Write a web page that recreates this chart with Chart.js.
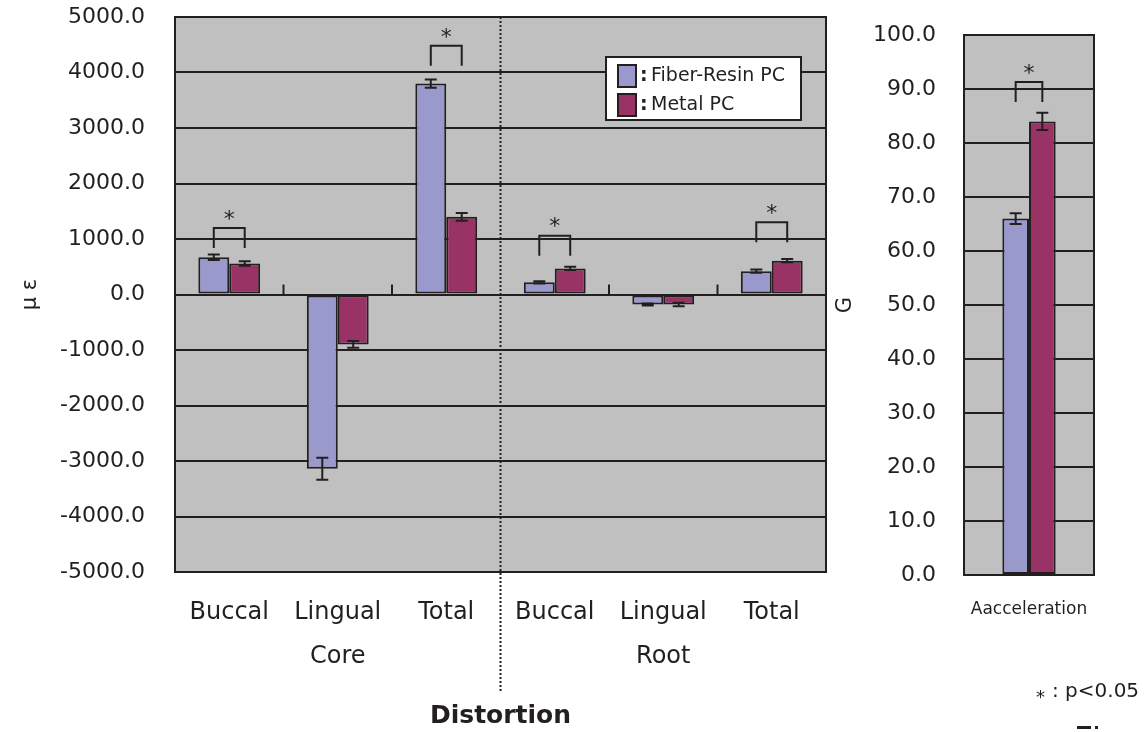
<!DOCTYPE html>
<html><head><meta charset="utf-8">
<script src="https://cdn.jsdelivr.net/npm/chart.js@4.4.1/dist/chart.umd.min.js"></script>
<style>
html,body{margin:0;padding:0;background:#fff;width:1145px;height:732px;overflow:hidden;}
#c1{position:absolute;left:0;top:0;}
#c2{position:absolute;left:830px;top:0;}
</style></head><body>
<canvas id="c1" width="830" height="732"></canvas>
<canvas id="c2" width="315" height="732"></canvas>
<script>
// ---- data ----
const categories = ['Buccal','Lingual','Total','Buccal','Lingual','Total'];
const groups = ['Core','Root'];
const seriesNames = ['Fiber-Resin PC','Metal PC'];
const fiberStrain = [670, -3140, 3800, 220, -180, 420];
const fiberStrainErr = [50, 200, 75, 20, 20, 30];
const metalStrain = [560, -900, 1400, 470, -180, 610];
const metalStrainErr = [40, 60, 70, 30, 30, 30];
const strainSigIndex = [0, 2, 3, 5];
const strainSigLevel = [1200, 4480, 1060, 1300];
const accCategories = ['Aacceleration'];
const fiberAcc = [66];
const fiberAccErr = [1];
const metalAcc = [84];
const metalAccErr = [1.6];
const accSigIndex = [0];
const accSigLevel = [91.3];

const TXT = '#231f20';
const FONT = "'DejaVu Sans', 'Liberation Sans', Arial, sans-serif";
const BLUE = '#9999cc', RED = '#993366';

function framePlugin(opts){
  return {
    id:'frame',
    beforeDraw(chart){
      const a = chart.chartArea, c = chart.ctx;
      c.save(); c.fillStyle = '#c0c0c0';
      c.fillRect(a.left, a.top, a.right-a.left, a.bottom-a.top);
      c.restore();
    },
    afterDraw(chart){
      const a = chart.chartArea, c = chart.ctx;
      const ys = chart.scales.y;
      c.save();
      c.strokeStyle = TXT; c.lineWidth = 2;
      c.strokeRect(a.left, a.top, a.right-a.left, a.bottom-a.top);
      // error bars
      const errs = opts.errs;
      chart.data.datasets.forEach((ds, di) => {
        const meta = chart.getDatasetMeta(di);
        meta.data.forEach((el, i) => {
          const v = ds.data[i], e = errs[di][i];
          const y1 = ys.getPixelForValue(v + e), y2 = ys.getPixelForValue(v - e);
          c.beginPath();
          c.moveTo(el.x, y1); c.lineTo(el.x, y2);
          c.moveTo(el.x-6, y1); c.lineTo(el.x+6, y1);
          c.moveTo(el.x-6, y2); c.lineTo(el.x+6, y2);
          c.stroke();
        });
      });
      // significance brackets
      const m0 = chart.getDatasetMeta(0), m1 = chart.getDatasetMeta(1);
      c.fillStyle = TXT;
      c.font = '22px ' + FONT; c.textAlign = 'center'; c.textBaseline = 'middle';
      opts.sigIndex.forEach((idx, k) => {
        const xa = m0.data[idx].x, xb = m1.data[idx].x;
        const yt = ys.getPixelForValue(opts.sigLevel[k]);
        c.beginPath();
        c.moveTo(xa, yt+20); c.lineTo(xa, yt); c.lineTo(xb, yt); c.lineTo(xb, yt+20);
        c.stroke();
        c.fillText('*', (xa+xb)/2, yt-8);
      });
      if (opts.extra) opts.extra(chart, c);
      c.restore();
    }
  };
}

function yAxis(min, max, step, width, title, titlePad, tickGap){
  return {
    min, max, z:1,
    afterFit(s){ s.width = width; },
    ticks:{ stepSize:step, padding:0, color:TXT, font:{family:FONT, size:22},
      callback:(v)=>Number(v).toFixed(1) },
    grid:{ color:TXT, lineWidth:2, drawTicks:true, tickLength:tickGap, tickColor:'rgba(0,0,0,0)' },
    border:{ display:false },
    title:{ display:true, text:title, color:TXT, font:{family:FONT, size:21}, padding:{top:titlePad,bottom:0} }
  };
}

// ---- left chart ----
new Chart(document.getElementById('c1'), {
  type:'bar',
  data:{ labels:categories, datasets:[
    {label:seriesNames[0], data:fiberStrain, backgroundColor:BLUE, borderColor:TXT, borderWidth:2, borderSkipped:false, categoryPercentage:0.57, barPercentage:1},
    {label:seriesNames[1], data:metalStrain, backgroundColor:RED, borderColor:TXT, borderWidth:2, borderSkipped:false, categoryPercentage:0.57, barPercentage:1}
  ]},
  options:{
    responsive:false, animation:false,
    layout:{ padding:{top:17, right:4, left:0, bottom:0} },
    plugins:{ legend:{display:false}, tooltip:{enabled:false} },
    scales:{
      x:{ afterFit(s){ s.height = 160; },
          grid:{display:false, drawTicks:false}, border:{display:false},
          ticks:{ padding:26, color:TXT, font:{family:FONT, size:24}, maxRotation:0, autoSkip:false } },
      y: yAxis(-5000, 5000, 1000, 175, 'μ ε', 18, 30)
    }
  },
  plugins:[framePlugin({
    errs:[fiberStrainErr, metalStrainErr], sigIndex:strainSigIndex, sigLevel:strainSigLevel,
    extra(chart, c){
      const xs = chart.scales.x, ys = chart.scales.y, a = chart.chartArea;
      const y0 = ys.getPixelForValue(0);
      const step = xs.getPixelForValue(1) - xs.getPixelForValue(0);
      c.strokeStyle = TXT; c.lineWidth = 2;
      for (let i = 1; i < categories.length; i++) {
        if (i === 3) continue;
        const x = xs.getPixelForValue(i) - step/2;
        c.beginPath(); c.moveTo(x, y0); c.lineTo(x, y0-10); c.stroke();
      }
      const xd = xs.getPixelForValue(3) - step/2;
      c.save(); c.setLineDash([2,2]);
      c.beginPath(); c.moveTo(xd, a.top); c.lineTo(xd, 692); c.stroke();
      c.restore();
      c.fillStyle = TXT; c.font = '24px ' + FONT; c.textAlign='center'; c.textBaseline='middle';
      groups.forEach((g, k) => {
        c.fillText(g, xs.getPixelForValue(k*3+1), 657);
      });
      c.font = 'bold 25px ' + FONT;
      c.fillText('Distortion', xd, 716);
      // legend
      const lx = 606, ly = 57, lw = 195, lh = 63;
      c.fillStyle = '#fff'; c.fillRect(lx, ly, lw, lh);
      c.strokeRect(lx, ly, lw, lh);
      chart.data.datasets.forEach((ds, di) => {
        const sy = 65 + di*29;
        c.fillStyle = ds.backgroundColor;
        c.fillRect(618, sy, 18, 22); c.strokeRect(618, sy, 18, 22);
        c.fillStyle = TXT; c.textAlign='left'; c.textBaseline='middle';
        c.font = 'bold 19px ' + FONT; c.fillText(':', 640, sy+11);
        c.font = '19px ' + FONT; c.fillText(ds.label, 651, sy+11);
      });
    }
  })]
});

// ---- right chart ----
new Chart(document.getElementById('c2'), {
  type:'bar',
  data:{ labels:accCategories, datasets:[
    {label:seriesNames[0], data:fiberAcc, backgroundColor:BLUE, borderColor:TXT, borderWidth:2, borderSkipped:false, categoryPercentage:0.41, barPercentage:1},
    {label:seriesNames[1], data:metalAcc, backgroundColor:RED, borderColor:TXT, borderWidth:2, borderSkipped:false, categoryPercentage:0.41, barPercentage:1}
  ]},
  options:{
    responsive:false, animation:false,
    layout:{ padding:{top:35, right:51, left:0, bottom:0} },
    plugins:{ legend:{display:false}, tooltip:{enabled:false} },
    scales:{
      x:{ afterFit(s){ s.height = 157; },
          grid:{display:false, drawTicks:false}, border:{display:false},
          ticks:{ padding:24, color:TXT, font:{family:FONT, size:17}, maxRotation:0 } },
      y: yAxis(0, 100, 10, 134, 'G', 3, 28)
    }
  },
  plugins:[framePlugin({
    errs:[fiberAccErr, metalAccErr], sigIndex:accSigIndex, sigLevel:accSigLevel,
    extra(chart, c){
      c.fillStyle = TXT; c.textBaseline='alphabetic'; c.textAlign='left';
      c.font = '18px ' + FONT;
      c.fillText('*', 206, 703);
      c.font = '20px ' + FONT;
      c.fillText(': p<0.05', 222, 697);
      c.fillRect(247, 726, 14, 3);
      c.fillRect(265, 726, 3, 3);
    }
  })]
});
</script>
</body></html>
